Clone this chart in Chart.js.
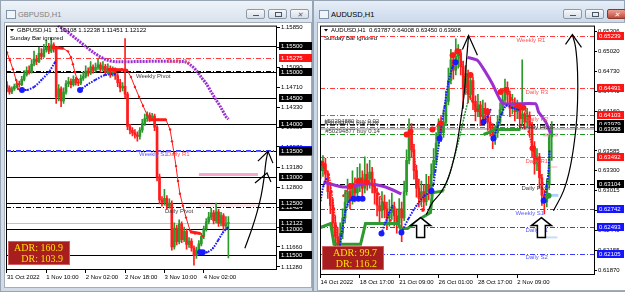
<!DOCTYPE html>
<html>
<head>
<meta charset="utf-8">
<title>GBPUSD,H1 / AUDUSD,H1</title>
<script src="https://cdn.jsdelivr.net/npm/chart.js@4.4.1/dist/chart.umd.min.js"></script>
<style>
  body { margin: 0; width: 625px; height: 292px; overflow: hidden; background: #c8d2dd; font-family: "Liberation Sans", Arial, sans-serif; }
  .win { position: absolute; top: 0; height: 292px; box-sizing: border-box; border: 1px solid #97a4b3; background: linear-gradient(#eef3f8, #d9e2ec 21px, #d2dbe5); }
  .win.active { background: linear-gradient(#e6eef8, #cbd9ea 21px, #c9d5e2); }
  .inner { position: absolute; background: #fff; border: 1px solid #a2adb9; box-sizing: border-box; }
  .title { position: absolute; top: 9px; left: 17px; font-size: 7.5px; color: #808080; }
  .active .title { color: #000; }
  .icon { position: absolute; left: 5px; top: 9px; width: 8px; height: 7px; border: 1px solid #7f93aa; background: #f1f5f9; }
  .btn { position: absolute; top: 8px; height: 10px; width: 19px; border: 1px solid #8c99a8; border-radius: 2px; box-sizing: border-box; background: linear-gradient(#f6f8fa, #d6dee7); }
  .btn.red { background: linear-gradient(#e9a192, #c4493c); border-color: #84382f; }
  .btn i { position: absolute; left: 6px; top: 5px; width: 6px; height: 1px; background: #4a5666; }
  .btn.max i { top: 2px; height: 3px; border: 1px solid #4a5666; background: none; width: 5px; }
  .btn.x i { top: 1px; left: 6px; width: auto; height: auto; background: none; font-size: 7px; line-height: 7px; color: #55606d; }
  .btn.red i { color: #fff; }
  canvas { position: absolute; }
</style>
</head>
<body>
<div class="win" style="left:0;width:313px">
  <div class="icon"></div><div class="title">GBPUSD,H1</div>
  <div class="btn" style="left:245px"><i></i></div>
  <div class="btn max" style="left:267px"><i></i></div>
  <div class="btn x" style="left:289px"><i>✕</i></div>
  <div class="inner" style="left:3px;top:21px;width:308px;height:266px"></div>
</div>
<div class="win active" style="left:313px;width:312px">
  <div class="icon"></div><div class="title">AUDUSD,H1</div>
  <div class="btn" style="left:249px"><i></i></div>
  <div class="btn max" style="left:271px"><i></i></div>
  <div class="btn x red" style="left:293px"><i>✕</i></div>
  <div class="inner" style="left:3px;top:21px;width:310px;height:269px"></div>
</div>
<canvas id="gbp" width="313" height="271" style="left:0;top:21px"></canvas>
<canvas id="aud" width="312" height="271" style="left:313px;top:21px"></canvas>
<script>
// ---------- GBPUSD H1 ----------
const gbpHeader = 'GBPUSD,H1  1.12108 1.12238 1.11451 1.12122';
const gbpTimeLabels = ['31 Oct 2022', '1 Nov 10:00', '2 Nov 02:00', '2 Nov 18:00', '3 Nov 10:00', '4 Nov 02:00'];
const gbpTimeIdx = [0, 16, 32, 48, 64, 80];
const gbpPriceTicks = [1.1585, 1.1547, 1.1509, 1.1471, 1.1433, 1.1395, 1.1357, 1.1318, 1.1280, 1.1242, 1.1204, 1.1166, 1.1128];
const gbpFirstOpen = 1.1475;
const gbpCloses = [1.1470,1.1462,1.1468,1.1473,1.1478,1.1476,1.1486,1.1495,1.1503,1.1500,
  1.1515,1.1525,1.1520,1.1536,1.1530,1.1543,1.1548,1.1540,1.1552,1.1544,
  1.1452,1.1468,1.1445,1.1462,1.1478,1.1482,1.1476,1.1486,1.1480,1.1479,
  1.1488,1.1492,1.1502,1.1498,1.1510,1.1503,1.1509,1.1514,1.1505,1.1511,
  1.1499,1.1507,1.1497,1.1504,1.1493,1.1480,1.1470,1.1473,1.1458,1.1396,
  1.1389,1.1384,1.1380,1.1377,1.1389,1.1402,1.1411,1.1418,1.1412,1.1416,
  1.1395,1.1300,1.1256,1.1251,1.1259,1.1244,1.1250,1.1166,1.1202,1.1176,
  1.1210,1.1180,1.1196,1.1171,1.1177,1.1164,1.1150,1.1160,1.1172,1.1186,
  1.1201,1.1214,1.1223,1.1231,1.1216,1.1233,1.1211,1.1226,1.1206,1.12108,
  1.12122];
const gbpHighs = [1.1482,1.1474,1.1472,1.1477,1.1484,1.1483,1.1492,1.1503,1.1510,1.1512,
  1.1524,1.1540,1.1532,1.1548,1.1545,1.1553,1.1560,1.1555,1.1566,1.1556,
  1.1548,1.1476,1.1472,1.1470,1.1484,1.1490,1.1487,1.1493,1.1490,1.1486,
  1.1495,1.1500,1.1512,1.1508,1.1520,1.1514,1.1517,1.1525,1.1518,1.1520,
  1.1515,1.1516,1.1512,1.1510,1.1508,1.1497,1.1486,1.1480,1.1564,1.1462,
  1.1400,1.1394,1.1390,1.1386,1.1394,1.1410,1.1420,1.1424,1.1422,1.1421,
  1.1420,1.1398,1.1305,1.1262,1.1276,1.1264,1.1258,1.1254,1.1212,1.1208,
  1.1218,1.1214,1.1204,1.1200,1.1184,1.1182,1.1168,1.1166,1.1178,1.1192,
  1.1206,1.1220,1.1232,1.1240,1.1236,1.1250,1.1238,1.1232,1.1230,1.1224,
  1.12238];
const gbpLows = [1.1462,1.1458,1.1459,1.1465,1.1470,1.1471,1.1474,1.1483,1.1492,1.1496,
  1.1498,1.1512,1.1514,1.1518,1.1524,1.1528,1.1538,1.1535,1.1537,1.1538,
  1.1440,1.1445,1.1434,1.1440,1.1458,1.1472,1.1470,1.1473,1.1475,1.1474,
  1.1476,1.1484,1.1489,1.1492,1.1495,1.1498,1.1500,1.1505,1.1500,1.1502,
  1.1494,1.1496,1.1490,1.1492,1.1486,1.1472,1.1462,1.1464,1.1450,1.1390,
  1.1382,1.1378,1.1374,1.1368,1.1372,1.1385,1.1398,1.1406,1.1406,1.1408,
  1.1388,1.1292,1.1248,1.1244,1.1246,1.1238,1.1240,1.1160,1.1162,1.1170,
  1.1172,1.1174,1.1176,1.1162,1.1165,1.1158,1.1131,1.1144,1.1155,1.1168,
  1.1182,1.1196,1.1210,1.1218,1.1210,1.1212,1.1205,1.1206,1.1198,1.1200,
  1.11451];
// [bar index, price] points of the indicator lines
const gbpPurple = [[20.7,1.1589],[24.5,1.1577],[28.5,1.1562],[32,1.1549],[35,1.1538],[38,1.1529],[40.7,1.1523],[44,1.1520],[72,1.1520],[75,1.1512],[77,1.1503],[79,1.1490],[81,1.1478],[83,1.1462],[85,1.1447],[87,1.1432],[89,1.1415],[90,1.1410]];
const gbpRedA = [[0,1.15377],[1.2,1.15226],[2.4,1.15056],[3.7,1.14848],[4.5,1.14678]];
const gbpRedB = [[18.3,1.15472],[20.7,1.15472],[22.8,1.15453],[24.8,1.15396],[26,1.15283],[26.8,1.15151],[27.6,1.14999],[28.5,1.14867]];
const gbpRedC = [[41.1,1.15056],[43.9,1.15056],[46.7,1.15056],[48.8,1.15037],[50.4,1.14905],[52,1.14716],[53.7,1.14527],[55.3,1.14357],[56.9,1.14187],[58.1,1.14092],[61.4,1.14092],[64.6,1.14092],[66.3,1.13903],[67.1,1.13677],[67.9,1.13450],[68.7,1.13204],[69.5,1.12921],[70.3,1.12675],[71.5,1.12448],[72.8,1.12221],[74.4,1.11976],[76.4,1.11919],[78.5,1.11919],[79.7,1.11862]];
const gbpRedFlats = [[[18.3,1.15472],[22.8,1.15453]], [[41.1,1.15056],[48.8,1.15037]], [[57.5,1.14092],[64.6,1.14092]], [[74.4,1.11950],[78.5,1.11919]]];
const gbpBlueA = [[6.1,1.14659],[8.2,1.14659],[11,1.14716],[14,1.14848],[17,1.15000],[19.5,1.15188]];
const gbpBlueB = [[29.7,1.14659],[32.5,1.14754],[35.8,1.14848],[39.8,1.14943],[43.9,1.14962]];
const gbpBlueC = [[78.5,1.11560],[81.3,1.11560],[83.7,1.11635],[85.8,1.11786],[87.8,1.11937],[89.8,1.12032]];
const gbpBlueBlobs = [[6.1,1.14659],[29.7,1.14659],[78.5,1.11560],[79.6,1.11560]];
const gbpRound = [1.155, 1.150, 1.145, 1.140, 1.135, 1.130, 1.125, 1.120, 1.115];
const gbpLevelNames = ['Daily R2', 'Weekly Pivot', 'Weekly S1', 'Daily R1', 'Daily Pivot'];
const gbpLevelValues = [1.15275, 1.15000, 1.13500, 1.13500, 1.12424];
const gbpLevelTextAt = [65.4, 52.4, 53.7, 65.0, 64.2];
const gbpLast = 1.12122;
const gbpZones = [[78, 102, 1.13015, 1.13072], [78, 102, 1.12430, 1.12505]];
const gbpCurve = [[96.7,1.11635],[99.6,1.12013],[101.6,1.12316],[103.3,1.12637],[104.5,1.12977],[105.3,1.13299],[106.1,1.13488]];
const gbpChevrons = [[[102,1.13299],[106.1,1.13488],[108.1,1.13261]], [[100.8,1.12883],[105.7,1.13072],[107.3,1.12902]]];
const gbpAdr = ['ADR: 160.9', 'DR: 103.9'];

// ---------- AUDUSD H1 ----------
const audHeader = 'AUDUSD,H1  0.63787 0.64008 0.63450 0.63908';
const audTimeLabels = ['14 Oct 2022', '18 Oct 17:00', '21 Oct 09:00', '26 Oct 01:00', '28 Oct 17:00', '2 Nov 09:00'];
const audTimeIdx = [0, 16, 32, 48, 64, 80];
const audPriceTicks = [0.65306, 0.65020, 0.64730, 0.64440, 0.64160, 0.63870, 0.63585, 0.63300, 0.63015, 0.62730, 0.62440, 0.62155, 0.61870];
const audFirstOpen = 0.6335;
const audCloses = [0.6330,0.6340,0.6325,0.6300,0.6280,0.6255,0.6235,0.6225,0.6240,0.6262,
  0.6285,0.6300,0.6290,0.6310,0.6298,0.6315,0.6320,0.6305,0.6325,0.6318,
  0.6328,0.6312,0.6298,0.6280,0.6272,0.6285,0.6275,0.6262,0.6270,0.6278,
  0.6265,0.6255,0.6275,0.6262,0.6300,0.6345,0.6385,0.6360,0.6330,0.6305,
  0.6290,0.6300,0.6285,0.6310,0.6300,0.6325,0.6345,0.6370,0.6395,0.6385,
  0.6400,0.6430,0.6460,0.6490,0.6475,0.6495,0.6500,0.6480,0.6450,0.6470,
  0.6440,0.6460,0.6430,0.6415,0.6425,0.6408,0.6420,0.6412,0.6400,0.6392,
  0.6375,0.6385,0.6400,0.6418,0.6432,0.6450,0.6440,0.6420,0.6428,0.6415,
  0.6420,0.6405,0.6412,0.6400,0.6410,0.6395,0.6365,0.6340,0.6350,0.6320,
  0.6295,0.6285,0.6310,0.63787,0.63908];
const audHighs = [0.6345,0.6352,0.6348,0.6330,0.6310,0.6290,0.6265,0.6248,0.6255,0.6275,
  0.6302,0.6318,0.6312,0.6330,0.6320,0.6335,0.6340,0.6330,0.6350,0.6340,
  0.6345,0.6335,0.6318,0.6305,0.6292,0.6300,0.6295,0.6285,0.6288,0.6298,
  0.6285,0.6275,0.6290,0.6285,0.6315,0.6360,0.6405,0.6398,0.6368,0.6338,
  0.6318,0.6315,0.6310,0.6325,0.6322,0.6340,0.6362,0.6385,0.6405,0.6408,
  0.6418,0.6445,0.6478,0.6505,0.6500,0.6520,0.6512,0.6505,0.6488,0.6482,
  0.6475,0.6472,0.6465,0.6438,0.6440,0.6430,0.6432,0.6428,0.6420,0.6408,
  0.6398,0.6395,0.6410,0.6428,0.6448,0.6462,0.6458,0.6445,0.6440,0.6435,
  0.6432,0.6425,0.6490,0.6415,0.6420,0.6415,0.6400,0.6372,0.6362,0.6355,
  0.6325,0.6302,0.6318,0.6382,0.64008];
const audLows = [0.6318,0.6322,0.6312,0.6290,0.6268,0.6240,0.6215,0.6208,0.6212,0.6232,
  0.6255,0.6278,0.6275,0.6282,0.6285,0.6290,0.6300,0.6292,0.6298,0.6302,
  0.6305,0.6298,0.6282,0.6265,0.6255,0.6262,0.6262,0.6245,0.6250,0.6260,
  0.6250,0.6240,0.6248,0.6228,0.6258,0.6295,0.6340,0.6350,0.6318,0.6292,
  0.6278,0.6280,0.6272,0.6280,0.6288,0.6295,0.6320,0.6340,0.6365,0.6372,
  0.6378,0.6395,0.6425,0.6455,0.6462,0.6468,0.6478,0.6468,0.6420,0.6440,
  0.6428,0.6432,0.6418,0.6402,0.6408,0.6395,0.6400,0.6398,0.6388,0.6380,
  0.6362,0.6368,0.6378,0.6395,0.6410,0.6425,0.6428,0.6408,0.6412,0.6402,
  0.6405,0.6392,0.6395,0.6390,0.6392,0.6380,0.6350,0.6325,0.6330,0.6305,
  0.6280,0.6268,0.6278,0.6305,0.63450];
const audGreen = [[0,0.62482],[4.1,0.62539],[5.5,0.62240],[16.3,0.62240],[18.3,0.62539],[31.7,0.62539],[32.5,0.62468],[35.4,0.62468],[40.7,0.62611],[44.7,0.62697],[45.5,0.62982],[50,0.63010]];
const audGreenRise = [[50,0.63010],[52.8,0.63295],[56.1,0.63723],[58.9,0.64151],[61,0.64436]];
const audGreenFlat = [[66.3,0.63823],[69,0.63860],[70.5,0.63894],[81.3,0.63894]];
const audGreenDot = [[92.7,0.62939]];
const audPurpleA = [[1.2,0.63139],[9.3,0.63067],[19.5,0.63110],[26.4,0.63067],[32.9,0.62967]];
const audPurpleB = [[59.8,0.64935],[63.8,0.64892],[67.1,0.64721],[69.9,0.64550],[72.4,0.64365],[74.4,0.64265],[87.4,0.64265],[88.6,0.64151],[91.5,0.64008],[93.5,0.63837]];
const audRed = [
  [[0,0.6342],[1.5,0.6335],[3.3,0.6325],[4.5,0.6300],[5.5,0.6275],[6.3,0.6250],[7,0.6225]],
  [[9.3,0.62939],[12.2,0.63082],[15.4,0.63153],[18.7,0.63139],[21.1,0.63096],[23.6,0.62967],[26,0.62796],[28.5,0.62582]],
  [[35,0.63823],[36.6,0.63866],[37.8,0.63581],[39,0.63295],[40.2,0.62967],[41.5,0.62725]],
  [[45.5,0.63894],[48.8,0.63980]],
  [[53.7,0.64964],[55.7,0.65021],[57.3,0.64864],[58.5,0.64650],[59.8,0.64436],[61.8,0.64294],[63.8,0.64180],[66.3,0.64065],[67.9,0.64151]],
  [[73.2,0.64436],[75.6,0.64465],[78,0.64322],[80.5,0.64237],[82.5,0.64208],[84.6,0.64080]],
  [[84.6,0.63866],[86.2,0.63624],[87.8,0.63467],[89,0.63295],[90.2,0.63124]]
];
const audRedBlobs = [[0.5,0.6340],[12.2,0.63082],[15.4,0.63153],[18.7,0.63139],[35,0.63823],[36.6,0.63866],[45.5,0.63894],[48.8,0.63980],[53.7,0.64964],[55.7,0.65021],[61,0.64679],[67.9,0.64151],[73.2,0.64436],[75.6,0.64465],[80.5,0.64237],[82.5,0.64208],[86.2,0.63624]];
const audBlue = [
  [[0,0.62868],[1.2,0.63082],[2.4,0.63181]],
  [[7.3,0.62112],[8.5,0.62368],[10.2,0.62725],[11.8,0.62868],[13.4,0.62896],[15.4,0.62896],[17.1,0.62896]],
  [[24.8,0.62397],[26.4,0.62554],[28,0.62697],[29.3,0.62796]],
  [[32.9,0.62411],[35.8,0.62611],[39,0.62796],[42.3,0.62939],[45.1,0.63010],[46.7,0.63295],[48.4,0.63766],[50.4,0.64222],[52,0.64579],[53.7,0.64793],[54.9,0.64864]],
  [[66.3,0.64008],[67.9,0.64080],[69.1,0.64180]],
  [[70.3,0.63766],[72,0.63937],[73.6,0.64123],[75.6,0.64237],[78,0.64208],[80.5,0.64180]],
  [[90.7,0.62868],[91.9,0.63082],[92.7,0.63295],[93.1,0.63581]]
];
const audBlueBlobs = [[7.3,0.62112],[13.4,0.62896],[15.4,0.62896],[17.1,0.62896],[24.8,0.62397],[32.9,0.62411],[45.1,0.63010],[48.4,0.63766],[54.9,0.64864],[66.3,0.64008],[70.3,0.63766],[90.7,0.62868]];
const audLevelNames = ['Weekly R1', 'Daily R3', 'Daily R2', 'Weekly Pivot', 'Daily R1', 'Daily Pivot', 'Weekly S1', 'Daily S1', 'Daily S2'];
const audLevelValues = [0.65239, 0.64491, 0.64103, 0.63979, 0.63492, 0.63104, 0.62742, 0.62493, 0.62105];
const audLevelTextAt = [79.7, 83.3, 83.3, 80.5, 83.3, 81.7, 79.3, 83.3, 83.3];
const audOrderNames = ['#50294880 buy 0.02', '#50294875 buy 0.02', '#50294877 buy 0.14'];
const audOrderValues = [0.63966, 0.63937, 0.63823];
const audOrderTextAt = [1.6, 1.6, 1.9];
const audLast = 0.63908;
const audZones = [[90.5, 96.5, 0.63794, 0.63837], [92.3, 96.3, 0.63340, 0.63367], [91.5, 96.7, 0.62925, 0.62967], [90.7, 96.3, 0.62326, 0.62354]];
const audZoneColors = ['#f7b3cf', '#fbd3de', '#a9d3f5', '#c5ddf5'];
const audCurves = [
  [[43,0.62668],[45.5,0.62840],[49,0.62990],[52,0.63200],[54.9,0.63581],[56.9,0.64008],[58.5,0.64436],[59.3,0.64864],[60.2,0.65249]],
  [[94.7,0.62725],[98.8,0.63010],[101.6,0.63367],[103.7,0.63866],[104.5,0.64294],[104.5,0.64721],[103.7,0.65078],[102.4,0.65263]]
];
const audChevrons = [[[57.7,0.65049],[60.2,0.65249],[63.8,0.64964]], [[99.6,0.65121],[102.4,0.65263],[106.1,0.65078]]];
const audArrows = [[40.7, 0.62625], [89.8, 0.62625]];
const audAdr = ['ADR: 99.7', 'DR: 116.2'];

// ---------- drawing ----------
const GREEN = '#2c992c', RED = '#ff1c1c';
const FONT = '6px "Liberation Sans"';
const TICKFONT = { family: 'Liberation Sans', size: 6 };
const DASHDOT = [5, 2, 1, 2];

const pts = list => list.map(p => ({ x: p[0], y: p[1] }));

function candles(firstOpen, closes, highs, lows) {
  const opens = closes.map((c, i) => i ? closes[i - 1] : firstOpen);
  const colors = closes.map((c, i) => c >= opens[i] ? GREEN : RED);
  return [
    { type: 'bar', data: closes.map((c, i) => ({ x: i, y: [lows[i], highs[i]] })), backgroundColor: colors, barThickness: 1, grouped: false, order: 20 },
    { type: 'bar', data: closes.map((c, i) => ({ x: i, y: [opens[i], c] })), backgroundColor: colors, barThickness: 2, minBarLength: 1, grouped: false, order: 19 }
  ];
}

function line(list, color, width, extra) {
  return Object.assign({ type: 'line', data: pts(list), borderColor: color, backgroundColor: color, borderWidth: width, pointRadius: 0, tension: 0, order: 6 }, extra || {});
}

function blobs(list, color, r) {
  return { type: 'line', data: pts(list), showLine: false, pointRadius: r, pointBackgroundColor: color, pointBorderWidth: 0, order: 2 };
}

function levelStyle(name) {
  if (/Pivot/.test(name)) return { line: '#000', text: '#3c3c3c', box: '#000', dy: 0 };
  if (/ R\d/.test(name)) return { line: '#ff3b3b', text: '#ff5555', box: '#ff1414', dy: 1 };
  return { line: '#3c3cff', text: '#5a5aff', box: '#1414ff', dy: -1 };
}

function mtPlugin(o) {
  return {
    id: 'mt',
    beforeDatasetsDraw(chart) {
      const { ctx, chartArea: a, scales: { x, y } } = chart;
      ctx.save();
      ctx.beginPath(); ctx.rect(a.left, a.top, a.width, a.height); ctx.clip();
      o.zones.forEach((z, i) => {
        const x1 = x.getPixelForValue(z[0]), x2 = x.getPixelForValue(z[1]);
        const y1 = y.getPixelForValue(z[3]), y2 = y.getPixelForValue(z[2]);
        ctx.fillStyle = o.zoneColors[i];
        ctx.fillRect(x1, y1, x2 - x1, Math.max(2, y2 - y1));
      });
      const hline = (v, color, w, dash) => {
        const p = y.getPixelForValue(v);
        const yy = w % 2 ? Math.round(p) + 0.5 : Math.round(p);
        ctx.strokeStyle = color; ctx.lineWidth = w; ctx.setLineDash(dash);
        ctx.beginPath(); ctx.moveTo(a.left, yy); ctx.lineTo(a.right, yy); ctx.stroke();
      };
      hline(o.last, '#c4c4c4', o.lastWidth, []);
      o.round.forEach(v => hline(v, '#000', 1, []));
      o.levelValues.forEach((v, i) => {
        const n = o.levelNames[i];
        hline(v, levelStyle(n).line, /Weekly/.test(n) ? o.weeklyWidth : 1, DASHDOT);
      });
      o.orderValues.forEach(v => hline(v, '#1f9a1f', 1, DASHDOT));
      ctx.restore();
    },
    afterDatasetsDraw(chart) {
      const { ctx, chartArea: a, scales: { x, y } } = chart;
      ctx.save();
      ctx.beginPath(); ctx.rect(a.left, a.top, a.width, a.height); ctx.clip();
      ctx.font = FONT; ctx.textAlign = 'left';
      ctx.textBaseline = 'top';
      o.levelNames.forEach((n, i) => {
        ctx.fillStyle = levelStyle(n).text;
        ctx.fillText(n, x.getPixelForValue(o.levelTextAt[i]), y.getPixelForValue(o.levelValues[i]) + 1);
      });
      ctx.textBaseline = 'bottom'; ctx.fillStyle = '#3c3c3c';
      o.orderNames.forEach((n, i) => ctx.fillText(n, x.getPixelForValue(o.orderTextAt[i]), y.getPixelForValue(o.orderValues[i])));
      // hollow up arrows
      o.arrows.forEach(p => {
        const ax = x.getPixelForValue(p[0]), ay = y.getPixelForValue(p[1]);
        ctx.beginPath();
        ctx.moveTo(ax, ay); ctx.lineTo(ax + 10, ay + 8); ctx.lineTo(ax + 4, ay + 8); ctx.lineTo(ax + 4, ay + 20);
        ctx.lineTo(ax - 4, ay + 20); ctx.lineTo(ax - 4, ay + 8); ctx.lineTo(ax - 10, ay + 8); ctx.closePath();
        ctx.fillStyle = '#fff'; ctx.fill();
        ctx.lineWidth = 1.5; ctx.strokeStyle = '#000'; ctx.stroke();
      });
      // header
      const hx = a.left + 4, hy = a.top + 5;
      ctx.fillStyle = '#000'; ctx.textBaseline = 'middle';
      ctx.beginPath(); ctx.moveTo(hx, hy - 1.5); ctx.lineTo(hx + 4, hy - 1.5); ctx.lineTo(hx + 2, hy + 1); ctx.fill();
      ctx.fillText(o.header, hx + 7, hy);
      ctx.fillText('Sunday Bar ignored', hx, hy + 8);
      // ADR box
      const bx = a.left + 2, by = a.bottom - 29;
      ctx.fillStyle = '#a81d1d'; ctx.fillRect(bx, by, 62, 24);
      ctx.strokeStyle = '#d06060'; ctx.lineWidth = 1; ctx.strokeRect(bx + 0.5, by + 0.5, 61, 23);
      ctx.fillStyle = '#ffe100'; ctx.font = '10px "Liberation Serif"'; ctx.textAlign = 'right';
      ctx.fillText(o.adr[0], bx + 55, by + 7);
      ctx.fillText(o.adr[1], bx + 55, by + 18);
      ctx.restore();
      ctx.save();
      ctx.strokeStyle = '#000'; ctx.lineWidth = 1;
      ctx.strokeRect(a.left + 0.5, a.top + 0.5, a.width - 1, a.height - 1);
      ctx.restore();
    },
    afterDraw(chart) {
      const { ctx, chartArea: a, scales: { y } } = chart;
      ctx.save();
      ctx.font = FONT; ctx.textBaseline = 'middle'; ctx.textAlign = 'left';
      const w = chart.width - a.right - 3;
      const box = (v, bg, dy) => {
        const yy = Math.round(y.getPixelForValue(v));
        ctx.fillStyle = bg; ctx.fillRect(a.right + 2, yy - 4 + dy, w, 8);
        ctx.fillStyle = '#fff'; ctx.fillText(v.toFixed(5), a.right + 4, yy);
      };
      o.levelValues.forEach((v, i) => {
        const s = levelStyle(o.levelNames[i]);
        box(v, s.box, o.round.includes(v) ? s.dy : 0);
      });
      o.round.forEach(v => box(v, '#000', 0));
      box(o.last, '#000', 0);
      ctx.restore();
    }
  };
}

function mtChart(id, o) {
  return new Chart(document.getElementById(id), {
    type: 'bar',
    data: { datasets: o.datasets },
    options: {
      responsive: false, animation: false, events: [],
      layout: { padding: o.padding, autoPadding: false },
      plugins: { legend: { display: false }, tooltip: { enabled: false } },
      scales: {
        x: {
          type: 'linear', min: o.xMin, max: o.xMax, offset: false,
          grid: { offset: false, drawOnChartArea: false, tickLength: 3, color: '#000' },
          border: { display: false },
          afterBuildTicks: s => { s.ticks = o.timeIdx.map(v => ({ value: v })); },
          afterFit: s => { s.height = o.xHeight; },
          ticks: { autoSkip: false, maxRotation: 0, align: 'start', padding: 1, color: '#000', font: TICKFONT,
                   callback: v => o.timeLabels[o.timeIdx.indexOf(v)] }
        },
        y: {
          type: 'linear', position: 'right', min: o.yMin, max: o.yMax,
          grid: { drawOnChartArea: false, tickLength: o.yTick, color: '#000' },
          border: { display: false },
          afterBuildTicks: s => { s.ticks = o.priceTicks.map(v => ({ value: v })); },
          afterFit: s => { s.width = o.yWidth; },
          ticks: { autoSkip: false, padding: 1, color: '#000', font: TICKFONT, callback: v => v.toFixed(5) }
        }
      }
    },
    plugins: [mtPlugin(o)]
  });
}

const blueDots = { borderDash: [1.5, 1.2], pointRadius: 1, pointBackgroundColor: '#1a1aff', pointBorderWidth: 0, order: 3 };
const redDots = { pointRadius: 1.2, pointBackgroundColor: '#ff1a1a', pointBorderWidth: 0, order: 4 };

mtChart('gbp', {
  padding: { left: 6, top: 2, right: 0, bottom: 0 },
  xMin: -0.4, xMax: 109.76, yMin: 1.11220, yMax: 1.15888,
  xHeight: 22, yWidth: 36, yTick: 3,
  timeIdx: gbpTimeIdx, timeLabels: gbpTimeLabels, priceTicks: gbpPriceTicks,
  header: gbpHeader, adr: gbpAdr,
  round: gbpRound, levelNames: gbpLevelNames, levelValues: gbpLevelValues, levelTextAt: gbpLevelTextAt,
  orderNames: [], orderValues: [], orderTextAt: [],
  last: gbpLast, lastWidth: 1, weeklyWidth: 2,
  zones: gbpZones, zoneColors: ['#f6a9cc', '#fde2e8'], arrows: [],
  datasets: [
    ...candles(gbpFirstOpen, gbpCloses, gbpHighs, gbpLows),
    line(gbpPurple, '#9b30d0', 3, { borderDash: [2, 1], tension: 0.3, order: 7 }),
    line(gbpRedA, '#ff1a1a', 1, redDots),
    line(gbpRedB, '#ff1a1a', 1, redDots),
    line(gbpRedC, '#ff1a1a', 1, redDots),
    ...gbpRedFlats.map(s => line(s, '#ff1a1a', 3, { order: 4 })),
    line(gbpBlueA, '#1a1aff', 2, Object.assign({}, blueDots, { tension: 0.3 })),
    line(gbpBlueB, '#1a1aff', 2, Object.assign({}, blueDots, { tension: 0.3 })),
    line(gbpBlueC, '#1a1aff', 2, Object.assign({}, blueDots, { tension: 0.3 })),
    blobs(gbpBlueBlobs, '#1a1aff', 3),
    line(gbpCurve, '#000', 1.2, { tension: 0.4, order: 1 }),
    ...gbpChevrons.map(c => line(c, '#000', 1.2, { order: 1 }))
  ]
});

mtChart('aud', {
  padding: { left: 7, top: 2, right: 0, bottom: 0 },
  xMin: -0.2, xMax: 111.59, yMin: 0.61798, yMax: 0.65392,
  xHeight: 17, yWidth: 30, yTick: 2,
  timeIdx: audTimeIdx, timeLabels: audTimeLabels, priceTicks: audPriceTicks,
  header: audHeader, adr: audAdr,
  round: [], levelNames: audLevelNames, levelValues: audLevelValues, levelTextAt: audLevelTextAt,
  orderNames: audOrderNames, orderValues: audOrderValues, orderTextAt: audOrderTextAt,
  last: audLast, lastWidth: 2, weeklyWidth: 1,
  zones: audZones, zoneColors: audZoneColors, arrows: audArrows,
  datasets: [
    ...candles(audFirstOpen, audCloses, audHighs, audLows),
    line(audGreen, '#2f9a2f', 3, { order: 8 }),
    line(audGreenRise, '#2f9a2f', 1.5, { borderDash: [2, 1], tension: 0.3, order: 8 }),
    line(audGreenFlat, '#2f9a2f', 3, { order: 8 }),
    blobs(audGreenDot, '#2f9a2f', 3),
    line(audPurpleA, '#9b30d0', 3, { tension: 0.3, order: 7 }),
    line(audPurpleB, '#9b30d0', 3, { tension: 0.2, order: 7 }),
    ...audRed.map(s => line(s, '#ff1a1a', 1.5, Object.assign({}, redDots, { borderDash: [1.5, 1], tension: 0.3 }))),
    blobs(audRedBlobs, '#ff1a1a', 3),
    ...audBlue.map(s => line(s, '#1a1aff', 2, Object.assign({}, blueDots, { tension: 0.3 }))),
    blobs(audBlueBlobs, '#1a1aff', 3),
    ...audCurves.map(c => line(c, '#000', 1.2, { tension: 0.4, order: 1 })),
    ...audChevrons.map(c => line(c, '#000', 1.2, { order: 1 }))
  ]
});
</script>
</body>
</html>
